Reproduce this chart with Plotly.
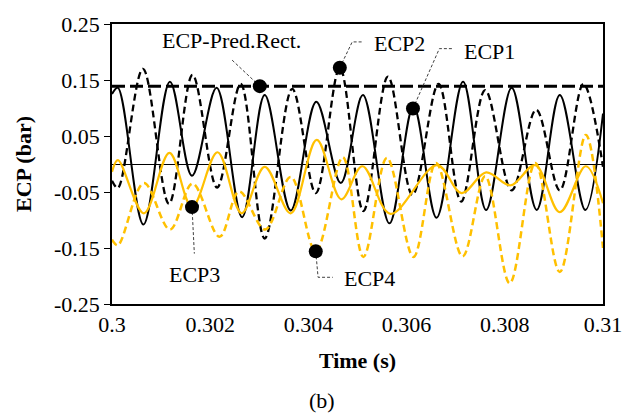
import plotly.graph_objects as go

# ---- data -------------------------------------------------------------
# ECP1: measured pressure (solid black)
time_ecp1 = [0.30000, 0.30012, 0.30064, 0.30118, 0.30163, 0.30213, 0.30265, 0.30311,
             0.30364, 0.30416, 0.30466, 0.30511, 0.30565, 0.30614, 0.30661, 0.30715,
             0.30762, 0.30814, 0.30865, 0.30912, 0.30964, 0.31000]
ecp1 = [0.125, 0.136, -0.108, 0.147, -0.021, 0.136, -0.095, 0.123,
        -0.083, 0.111, -0.034, 0.123, -0.106, 0.103, -0.096, 0.147,
        -0.082, 0.136, -0.082, 0.123, -0.082, 0.090]

# ECP2 (dashed black)
time_ecp2 = [0.30000, 0.30012, 0.30063, 0.30116, 0.30164, 0.30214, 0.30262, 0.30311,
             0.30367, 0.30415, 0.30464, 0.30512, 0.30562, 0.30612, 0.30665, 0.30711,
             0.30760, 0.30814, 0.30864, 0.30912, 0.30960, 0.31000]
ecp2 = [-0.030, -0.043, 0.170, -0.071, 0.159, -0.042, 0.143, -0.133,
        0.134, -0.052, 0.172, -0.084, 0.156, -0.055, 0.143, -0.067,
        0.132, -0.047, 0.097, -0.047, 0.143, -0.005]

# ECP3 (solid yellow)
time_ecp3 = [0.30000, 0.30012, 0.30065, 0.30117, 0.30163, 0.30215, 0.30264, 0.30311,
             0.30364, 0.30417, 0.30467, 0.30510, 0.30567, 0.30662, 0.30712, 0.30762,
             0.30812, 0.30862, 0.30912, 0.30965, 0.31000]
ecp3 = [-0.014, 0.007, -0.088, 0.020, -0.077, 0.021, -0.088, -0.005,
        -0.088, 0.043, -0.063, -0.004, -0.089, -0.002, -0.052, -0.015,
        -0.038, -0.002, -0.086, -0.004, -0.070]

# ECP4 (dashed yellow)
time_ecp4 = [0.30000, 0.30012, 0.30065, 0.30118, 0.30164, 0.30219, 0.30259, 0.30312,
             0.30364, 0.30415, 0.30470, 0.30512, 0.30560, 0.30614, 0.30660, 0.30714,
             0.30760, 0.30810, 0.30862, 0.30912, 0.30965, 0.31000]
ecp4 = [-0.135, -0.145, -0.034, -0.117, -0.035, -0.130, -0.049, -0.117,
        -0.023, -0.156, 0.012, -0.166, 0.011, -0.166, 0.002, -0.165,
        -0.022, -0.213, 0.002, -0.193, 0.052, -0.150]

# Predicted rectifier level (constant)
time_pred = [0.300, 0.310]
ecp_pred = [0.139, 0.139]

# axis ticks
x_ticks = [0.300, 0.302, 0.304, 0.306, 0.308, 0.310]
x_tick_text = ["0.3", "0.302", "0.304", "0.306", "0.308", "0.31"]
y_ticks = [-0.25, -0.15, -0.05, 0.05, 0.15, 0.25]
y_tick_text = ["-0.25", "-0.15", "-0.05", "0.05", "0.15", "0.25"]

# callout labels: name, marked point on the curve, leader path, text position
callouts = [
    ("ECP-Pred.Rect.", (0.30301, 0.139), [(0.302444, 0.1857)], (0.302424, 0.2213)),
    ("ECP2", (0.30464, 0.172), [(0.304892, 0.218), (0.305092, 0.218)], (0.30585, 0.215)),
    ("ECP1", (0.30613, 0.099), [(0.306667, 0.206), (0.306926, 0.206)], (0.307693, 0.201)),
    ("ECP3", (0.30163, -0.077), [(0.301677, -0.160)], (0.301677, -0.1975)),
    ("ECP4", (0.30415, -0.156), [(0.304197, -0.2023), (0.304496, -0.2023)], (0.305243, -0.2046)),
]

SERIF = "Liberation Serif"
YELLOW = "#FFC000"
txt_font = dict(family=SERIF, size=22, color="black")

fig = go.Figure()

fig.add_trace(go.Scatter(x=time_pred, y=ecp_pred, mode="lines", name="ECP-Pred.Rect.",
                         line=dict(color="black", width=3, dash="13px,5px")))
fig.add_trace(go.Scatter(x=time_ecp2, y=ecp2, mode="lines", name="ECP2",
                         line=dict(color="black", width=2.3, dash="7px,4px", shape="spline")))
fig.add_trace(go.Scatter(x=time_ecp1, y=ecp1, mode="lines", name="ECP1",
                         line=dict(color="black", width=2, shape="spline")))
fig.add_trace(go.Scatter(x=time_ecp4, y=ecp4, mode="lines", name="ECP4",
                         line=dict(color=YELLOW, width=2.5, dash="7px,4px", shape="spline")))
fig.add_trace(go.Scatter(x=time_ecp3, y=ecp3, mode="lines", name="ECP3",
                         line=dict(color=YELLOW, width=2.2, shape="spline")))

# leader lines and labels
for name, (px, py), path, (tx, ty) in callouts:
    xs = [px] + [p[0] for p in path]
    ys = [py] + [p[1] for p in path]
    fig.add_trace(go.Scatter(x=xs, y=ys, mode="lines", hoverinfo="skip",
                             line=dict(color="#404040", width=1, dash="3px,2px")))
    fig.add_annotation(x=tx, y=ty, xref="x", yref="y", text=name, showarrow=False,
                       font=txt_font)

fig.add_trace(go.Scatter(x=[c[1][0] for c in callouts], y=[c[1][1] for c in callouts],
                         mode="markers", marker=dict(color="black", size=14)))

# panel tag below the axis title
fig.add_annotation(x=(327 - 112) / 502, y=(303.75 - 402) / 283.75, xref="paper", yref="paper",
                   text="(b)", showarrow=False, yanchor="middle", font=txt_font)

fig.update_layout(
    width=634, height=415,
    margin=dict(l=112, r=20, t=20, b=111),
    paper_bgcolor="white", plot_bgcolor="white",
    showlegend=False,
    font=txt_font,
)

fig.update_xaxes(range=[0.3, 0.31], tickvals=x_ticks, ticktext=x_tick_text, ticks="",
                 tickfont=txt_font,
                 showgrid=False, zeroline=False, showline=True, linecolor="black",
                 linewidth=1.5, mirror=True,
                 title=dict(text="<b>Time (s)</b>", font=txt_font, standoff=16))
fig.update_yaxes(range=[-0.25, 0.25], tickvals=y_ticks, ticktext=y_tick_text, ticks="outside",
                 tickfont=txt_font,
                 ticklen=6, tickcolor="black", showgrid=False, zeroline=True,
                 zerolinecolor="black", zerolinewidth=1, showline=True, linecolor="black",
                 linewidth=1.5, mirror=True,
                 title=dict(text="<b>ECP (bar)</b>", font=txt_font, standoff=16))

fig.write_html("out.html")
